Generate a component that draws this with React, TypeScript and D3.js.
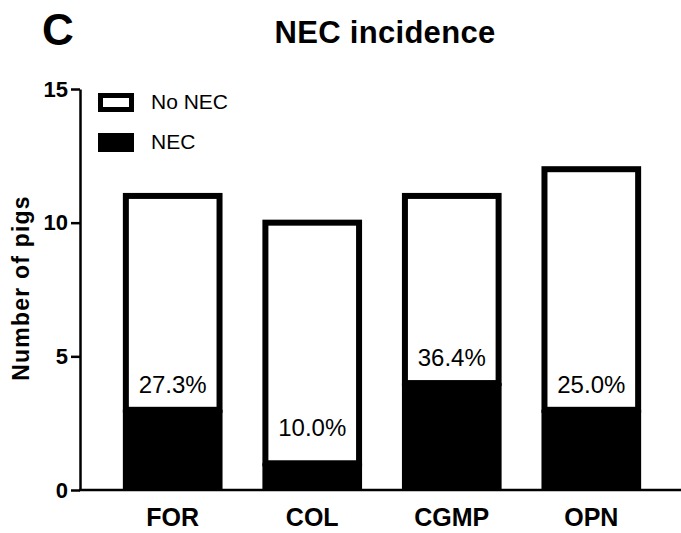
import React, { ReactElement, useRef, useEffect } from 'react';
import * as d3 from 'd3';

const groups = ['FOR', 'COL', 'CGMP', 'OPN'];
const necCounts = [3, 1, 4, 3];
const totalCounts = [11, 10, 11, 12];
const yTicks = [0, 5, 10, 15];
const legendLabels = ['No NEC', 'NEC'];

const W = 681, H = 533;
const FONT = '"Liberation Sans", Arial, Helvetica, sans-serif';

const App = (): ReactElement => {
  const ref = useRef<SVGSVGElement>(null);

  useEffect(() => {
    const svg = d3.select(ref.current);
    svg.selectAll('*').remove();

    const x = d3.scaleBand<string>()
      .domain(groups)
      .range([81, 683])
      .paddingInner(0.2857)
      .paddingOuter(0.3);

    const y = d3.scaleLinear().domain([0, 15]).range([490, 89]);

    // panel letter + title
    svg.append('text')
      .attr('x', 42).attr('y', 45)
      .attr('font-family', FONT).attr('font-weight', 'bold').attr('font-size', 44)
      .text('C');
    svg.append('text')
      .attr('x', 385).attr('y', 43)
      .attr('text-anchor', 'middle')
      .attr('font-family', FONT).attr('font-weight', 'bold').attr('font-size', 31)
      .attr('letter-spacing', 0.3)
      .text('NEC incidence');

    // y axis title
    svg.append('text')
      .attr('transform', 'translate(29,288) rotate(-90)')
      .attr('text-anchor', 'middle')
      .attr('font-family', FONT).attr('font-weight', 'bold').attr('font-size', 23)
      .attr('letter-spacing', 1.2)
      .text('Number of pigs');

    // bars: white stacked part with black outline, black NEC part below
    const bw = x.bandwidth();
    const sw = 6;
    const bars = svg.append('g');
    groups.forEach((g, i) => {
      const x0 = x(g) as number;
      bars.append('rect')
        .attr('x', x0 + sw / 2).attr('y', y(totalCounts[i]))
        .attr('width', bw - sw).attr('height', y(necCounts[i]) - y(totalCounts[i]))
        .attr('fill', '#fff').attr('stroke', '#000').attr('stroke-width', sw);
      bars.append('rect')
        .attr('x', x0).attr('y', y(necCounts[i]))
        .attr('width', bw).attr('height', y(0) - y(necCounts[i]))
        .attr('fill', '#000');
      const pct = (necCounts[i] / totalCounts[i]) * 100;
      bars.append('text')
        .attr('x', x0 + bw / 2)
        .attr('y', Math.min(y(necCounts[i]), y(1.4)) - 17)
        .attr('text-anchor', 'middle')
        .attr('font-family', FONT).attr('font-size', 24)
        .text(`${pct.toFixed(1)}%`);
    });

    // y axis
    const yAxis = svg.append('g')
      .attr('transform', 'translate(80,0)')
      .call(d3.axisLeft(y).tickValues(yTicks).tickSizeInner(9).tickSizeOuter(0).tickPadding(3));
    yAxis.select('.domain').attr('stroke-width', 2.5);
    yAxis.selectAll('.tick line').attr('stroke-width', 2.5);
    yAxis.selectAll('.tick text')
      .attr('font-family', FONT).attr('font-weight', 'bold').attr('font-size', 22)
      .attr('fill', '#000');

    // x axis
    const xAxis = svg.append('g')
      .attr('transform', 'translate(0,490)')
      .call(d3.axisBottom(x).tickSize(0).tickPadding(18));
    xAxis.select('.domain').attr('d', 'M79,0H681').attr('stroke-width', 2.5);
    xAxis.selectAll('.tick text')
      .attr('font-family', FONT).attr('font-weight', 'bold').attr('font-size', 25)
      .attr('fill', '#000');

    // legend
    const leg = svg.append('g');
    legendLabels.forEach((lab, i) => {
      const top = 93 + i * 40;
      if (i === 0) {
        leg.append('rect')
          .attr('x', 100.5).attr('y', top + 2.5).attr('width', 31).attr('height', 14)
          .attr('fill', '#fff').attr('stroke', '#000').attr('stroke-width', 5);
      } else {
        leg.append('rect')
          .attr('x', 98).attr('y', top).attr('width', 36).attr('height', 19)
          .attr('fill', '#000');
      }
      leg.append('text')
        .attr('x', 151).attr('y', top + 16)
        .attr('font-family', FONT).attr('font-size', 21)
        .text(lab);
    });
  }, []);

  return (
    <svg ref={ref} width={W} height={H}
      style={{ position: 'absolute', left: 0, top: 0, background: '#fff' }} />
  );
};

export default App;
